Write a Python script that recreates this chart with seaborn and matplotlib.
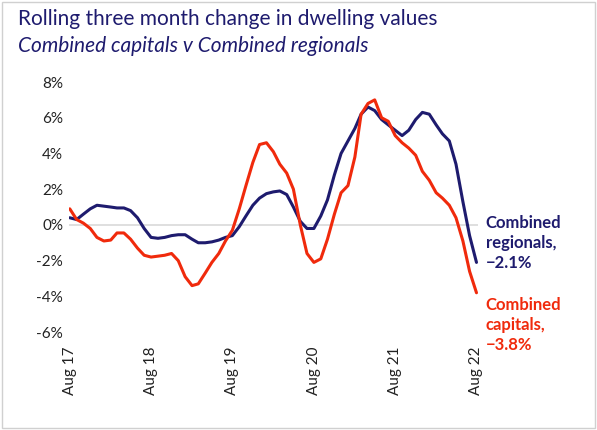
import matplotlib
matplotlib.use("Agg")
import matplotlib.pyplot as plt
import seaborn as sns
import pandas as pd

# Rolling three month change (%), monthly Aug 2017 - Aug 2022
regionals = [0.4, 0.3, 0.6, 0.9, 1.1, 1.05, 1.0, 0.95, 0.95, 0.8, 0.4, -0.2, -0.7,
             -0.75, -0.7, -0.6, -0.55, -0.55, -0.8, -1.0, -1.0, -0.95, -0.85, -0.7,
             -0.6, -0.1, 0.5, 1.1, 1.5, 1.75, 1.85, 1.9, 1.7, 1.0, 0.2, -0.2,
             -0.2, 0.5, 1.4, 2.8, 4.0, 4.7, 5.4, 6.2, 6.6, 6.4, 5.9, 5.6,
             5.3, 5.0, 5.3, 5.9, 6.3, 6.2, 5.6, 5.1, 4.7, 3.4, 1.3, -0.6, -2.1]
capitals = [0.9, 0.3, 0.1, -0.2, -0.7, -0.9, -0.85, -0.45, -0.45, -0.8, -1.3, -1.7, -1.8,
            -1.75, -1.7, -1.6, -2.0, -2.9, -3.4, -3.3, -2.7, -2.1, -1.6, -0.9,
            -0.3, 0.9, 2.2, 3.5, 4.5, 4.6, 4.1, 3.4, 2.9, 2.0, 0.0, -1.6,
            -2.1, -1.9, -0.8, 0.6, 1.8, 2.2, 3.8, 6.2, 6.8, 7.0, 6.0, 5.8,
            5.0, 4.6, 4.3, 3.9, 3.0, 2.5, 1.8, 1.5, 1.1, 0.4, -0.9, -2.6, -3.8]
months = pd.date_range("2017-08-01", periods=len(regionals), freq="MS")
tick_dates = pd.date_range("2017-08-01", "2022-08-01", freq="12MS")
tick_labels = ["Aug 17", "Aug 18", "Aug 19", "Aug 20", "Aug 21", "Aug 22"]
y_ticks = [-6, -4, -2, 0, 2, 4, 6, 8]

navy = "#1e1b6e"
red = "#f02a0c"

df = pd.DataFrame({"month": list(months) * 2,
                   "value": regionals + capitals,
                   "series": ["Combined regionals"] * len(regionals) + ["Combined capitals"] * len(capitals)})

sns.set_style("white")
plt.rcParams["font.family"] = ["Lato", "DejaVu Sans"]

fig = plt.figure(figsize=(5.97, 4.30), dpi=100)
ax = fig.add_axes([0.115, 0.207, 0.685, 0.623])
ax.axhline(0, color="#d9d9d9", lw=1.2, zorder=0)
sns.lineplot(data=df, x="month", y="value", hue="series",
             palette={"Combined regionals": navy, "Combined capitals": red},
             lw=2.2, legend=False, ax=ax)

ax.set_ylim(-6.5, 8.5)
ax.set_xlim(months[0] - pd.Timedelta(days=5), months[-1] + pd.Timedelta(days=5))
ax.set_yticks(y_ticks)
ax.set_yticklabels([f"{v}%" for v in y_ticks], fontsize=11, color="#222222")
ax.set_xticks(tick_dates)
ax.set_xticklabels(tick_labels, rotation=90, fontsize=11, color="#222222")
ax.tick_params(length=0, pad=4)
ax.set_xlabel("")
ax.set_ylabel("")
for s in ax.spines.values():
    s.set_visible(False)

ax.text(1.02, 0.365, "Combined\nregionals,\n\u22122.1%", transform=ax.transAxes,
        color=navy, fontsize=12, fontweight="bold", va="center", ha="left", linespacing=1.3)
ax.text(1.02, 0.06, "Combined\ncapitals,\n\u22123.8%", transform=ax.transAxes,
        color=red, fontsize=12, fontweight="bold", va="center", ha="left", linespacing=1.3)

fig.text(0.03, 0.955, "Rolling three month change in dwelling values", color=navy,
         fontsize=15, va="center")
fig.text(0.03, 0.893, "Combined capitals v Combined regionals", color=navy,
         fontsize=15, style="italic", va="center")

fig.patches.append(plt.Rectangle((0.004, 0.004), 0.992, 0.992, transform=fig.transFigure,
                                 fill=False, edgecolor="#d0d0d0", lw=1))

fig.savefig("out.png", dpi=100)
